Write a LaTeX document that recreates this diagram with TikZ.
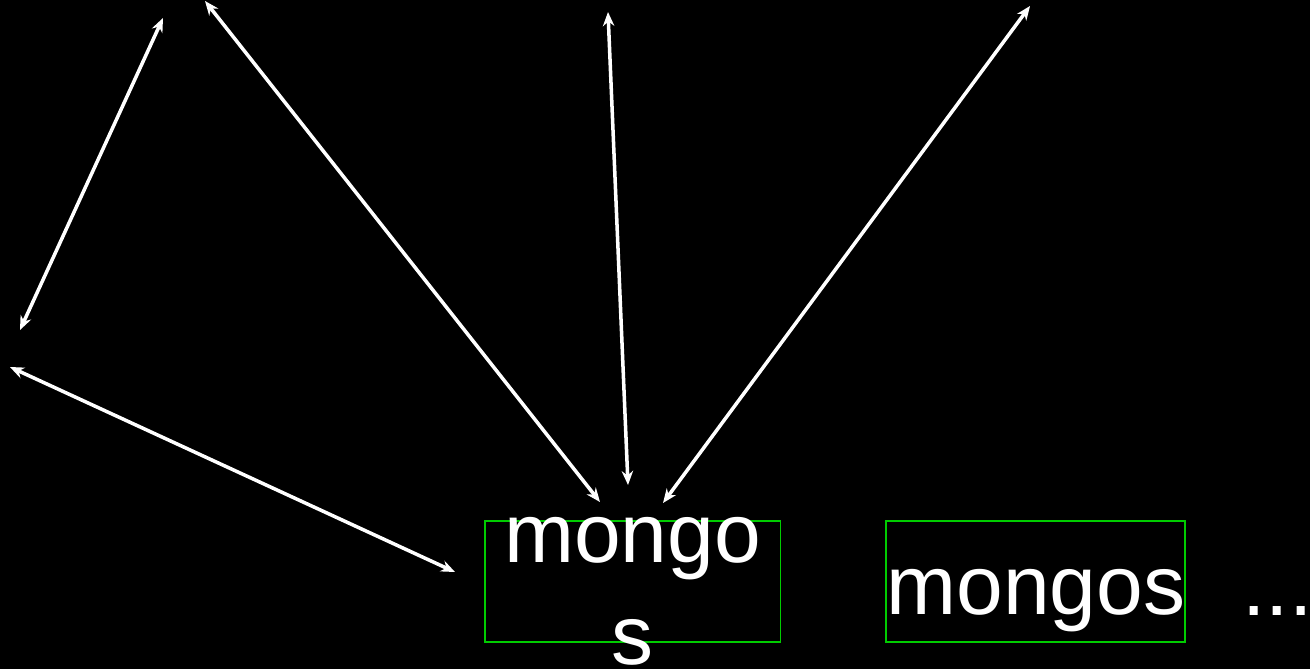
\documentclass[tikz,border=0pt]{standalone}
\usepackage{fontspec}
\setmainfont{Liberation Sans}
\usetikzlibrary{arrows.meta, positioning}
\definecolor{routergreen}{HTML}{00CC00}

\begin{document}
\begin{tikzpicture}[x=0.02cm, y=-0.02cm,
  box/.style={rectangle, draw=routergreen, line width=1.1pt, minimum width=5.92cm, minimum height=2.42cm, inner sep=0pt, text=white, align=center, font=\fontsize{47.8}{58}\selectfont},
  link/.style={draw=white, line width=2pt, {Stealth[length=8pt,width=6.5pt]}-{Stealth[length=8pt,width=6.5pt]}}]
% page
\fill[black] (0,0) rectangle (1310,669);
\useasboundingbox (0,0) rectangle (1310,669);

% routers
\node (mongos1) [box, text height=2.4cm, text depth=0cm] at (632.5,581.5) {\raisebox{-0.46cm}{mongo}\\\raisebox{-0.46cm}{s}};
\node (mongos2) [box, text height=1.6cm, text depth=0.28cm, right=2.08cm of mongos1] {mongos};
\node (more) [text=white, inner sep=0pt, anchor=base west, font=\fontsize{47.8}{58}\selectfont] at (1242,615) {...};

% free ends of the links
\coordinate (leftA) at (163,18);
\coordinate (leftB) at (20,330);
\coordinate (topA) at (205,1);
\coordinate (inA) at (600,502);
\coordinate (topB) at (608,12);
\coordinate (inB) at (628,485);
\coordinate (topC) at (1030,6);
\coordinate (inC) at (663,503);
\coordinate (sideA) at (10,367);
\coordinate (inD) at (455,572);

% links
\draw[link] (leftA) -- (leftB);
\draw[link] (topA) -- (inA);
\draw[link] (topB) -- (inB);
\draw[link] (topC) -- (inC);
\draw[link] (sideA) -- (inD);
\end{tikzpicture}
\end{document}
